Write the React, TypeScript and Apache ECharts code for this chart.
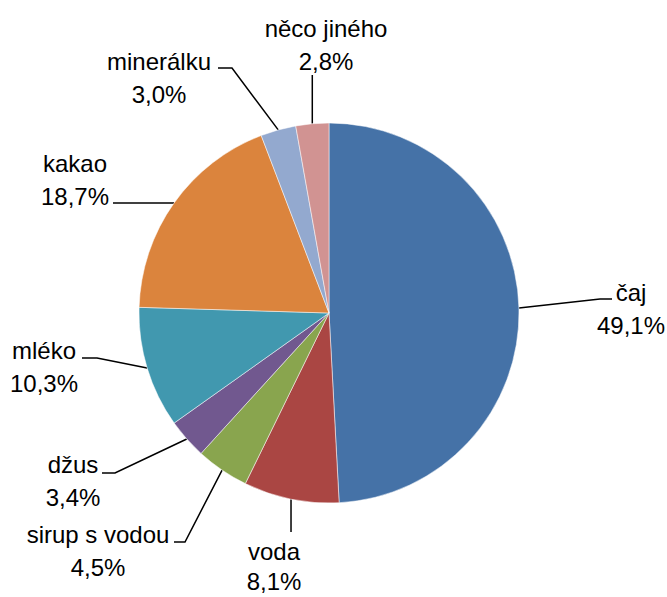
import { useEffect, useRef } from 'react';
import * as echarts from 'echarts';

const categories = ['čaj', 'voda', 'sirup s vodou', 'džus', 'mléko', 'kakao', 'minerálku', 'něco jiného'];
const values = [49.1, 8.1, 4.5, 3.4, 10.3, 18.7, 3.0, 2.8];
const colors = ['#4572A7', '#AA4643', '#89A54E', '#71588F', '#4198AF', '#DB843D', '#93A9CF', '#D19392'];

// label placement (label centre), line spacing and leader-line shape, per slice
type Lay = { x: number; y: number; lh: number; vertical?: boolean; dx: number; dy: number; elbow: number };
const labelLayouts: Lay[] = [
  { x: 631, y: 309, lh: 33, dx: -19, dy: -10, elbow: -12 },
  { x: 274, y: 566, lh: 30, vertical: true, dx: 0, dy: -34, elbow: 0 },
  { x: 98, y: 551, lh: 33, dx: 76, dy: -9, elbow: 11 },
  { x: 73, y: 481, lh: 33, dx: 29, dy: -8, elbow: 13 },
  { x: 44, y: 367, lh: 33, dx: 38, dy: -9, elbow: 15 },
  { x: 75, y: 180, lh: 33, dx: 38, dy: 23, elbow: 0 },
  { x: 159, y: 78, lh: 33, dx: 59, dy: -10, elbow: 14 },
  { x: 326, y: 45, lh: 33, vertical: true, dx: 0, dy: 30, elbow: 0 },
];

const CX = 329;
const CY = 313;
const R = 190;

const fmt = (v: number) => v.toFixed(1).replace('.', ',') + '%';

export default function App() {
  const ref = useRef<HTMLDivElement>(null);
  useEffect(() => {
    document.body.style.margin = '0';
    if (!ref.current) return;
    const chart = echarts.init(ref.current, undefined, { renderer: 'svg' });
    const total = values.reduce((a, b) => a + b, 0);
    const fallbackAnchor = (i: number) => {
      let before = 0;
      for (let k = 0; k < i; k++) before += values[k];
      const mid = ((before + values[i] / 2) / total) * Math.PI * 2;
      return [CX + R * Math.sin(mid), CY - R * Math.cos(mid)];
    };
    chart.setOption({
      animation: false,
      backgroundColor: '#ffffff',
      series: [
        {
          type: 'pie',
          center: [CX, CY],
          radius: R,
          startAngle: 90,
          clockwise: true,
          avoidLabelOverlap: false,
          emphasis: { disabled: true },
          itemStyle: { borderColor: '#ffffff', borderWidth: 0.5 },
          label: {
            show: true,
            position: 'outside',
            formatter: (p: any) => p.name + '\n' + fmt(p.value),
            fontSize: 24,
            lineHeight: 33,
            color: '#000000',
            fontFamily: "'Liberation Sans', Arial, sans-serif",
          },
          labelLine: {
            show: true,
            smooth: false,
            length: 20,
            length2: 10,
            lineStyle: { color: '#000000', width: 1.5 },
          },
          labelLayout: (params: any) => {
            const i = params.dataIndex;
            const L = labelLayouts[i];
            const pts = params.labelLinePoints;
            const a = pts && pts[0] ? pts[0] : fallbackAnchor(i);
            let end: number[];
            let elbow: number[];
            if (L.vertical) {
              end = [a[0], L.y + L.dy];
              elbow = end;
            } else {
              end = [L.x + L.dx, L.y + L.dy];
              elbow = [end[0] + L.elbow, end[1]];
            }
            return {
              x: L.x,
              y: L.y,
              align: 'center',
              verticalAlign: 'middle',
              labelLinePoints: [a, elbow, end],
            };
          },
          data: categories.map((name, i) => ({
            name,
            value: values[i],
            itemStyle: { color: colors[i] },
            label: { lineHeight: labelLayouts[i].lh },
          })),
        },
      ],
    });
    return () => chart.dispose();
  }, []);
  return <div ref={ref} style={{ width: 667, height: 597 }} />;
}
